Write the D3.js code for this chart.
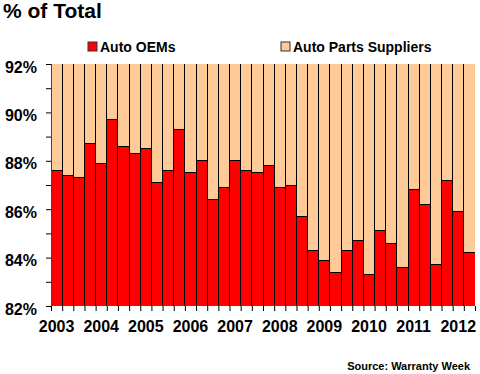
<html><head>
  <script src="https://d3js.org/d3.v7.min.js"></script>
  <style>
    body { margin: 0; background: #fff; }
    text { font-family: Arial, 'Liberation Sans', sans-serif; font-weight: bold; fill: #000; }
    .axis path { stroke: #444; }
    .axis line { stroke: #000; }
  </style>
</head>
<body>
<script>
  // quarterly shares, 2003 Q1 .. 2012 Q2
  const years = ["2003","2004","2005","2006","2007","2008","2009","2010","2011","2012"]
  const seriesNames = ["Auto OEMs", "Auto Parts Suppliers"]
  const oemShare = [87.6,87.4,87.3,88.7, 87.9,89.7,88.6,88.3, 88.5,87.1,87.6,89.3,
                    87.5,88.0,86.4,86.9, 88.0,87.6,87.5,87.8, 86.9,87.0,85.7,84.3,
                    83.9,83.4,84.3,84.7, 83.3,85.1,84.6,83.6, 86.8,86.2,83.7,87.2,
                    85.9,84.2]
  const supplierShare = [12.4,12.6,12.7,11.3, 12.1,10.3,11.4,11.7, 11.5,12.9,12.4,10.7,
                         12.5,12.0,13.6,13.1, 12.0,12.4,12.5,12.2, 13.1,13.0,14.3,15.7,
                         16.1,16.6,15.7,15.3, 16.7,14.9,15.4,16.4, 13.2,13.8,16.3,12.8,
                         14.1,15.8]
  const yTicks = [82,83,84,85,86,87,88,89,90,91,92]
  const colors = ["#ff0000", "#fdca98"]

  const width = 480, height = 374
  const margin = {top: 64, right: 5, bottom: 68, left: 51}

  const svg = d3.select("body").append("svg")
                .attr("width", width).attr("height", height)

  const rows = oemShare.map((v, i) => ({idx: i, "Auto OEMs": v, "Auto Parts Suppliers": supplierShare[i]}))
  const stacked = d3.stack().keys(seriesNames)(rows)

  const x = d3.scaleBand().domain(d3.range(oemShare.length))
              .range([margin.left, width - margin.right]).padding(0)
  const y = d3.scaleLinear().domain([82, 92]).range([height - margin.bottom, margin.top])

  svg.append("clipPath").attr("id", "plotclip")
     .append("rect")
     .attr("x", margin.left).attr("y", margin.top)
     .attr("width", width - margin.left - margin.right)
     .attr("height", height - margin.top - margin.bottom)

  const barArea = svg.append("g").attr("clip-path", "url(#plotclip)")
  barArea.selectAll("g.series").data(stacked)
    .join("g").attr("class", "series")
    .attr("fill", (d, i) => colors[i])
    .selectAll("rect").data(d => d)
    .join("rect")
    .attr("x", d => x(d.data.idx))
    .attr("y", d => y(d[1]))
    .attr("width", x.bandwidth())
    .attr("height", d => y(d[0]) - y(d[1]))
    .attr("stroke", "#000")
    .attr("stroke-width", 1)
    .attr("shape-rendering", "crispEdges")

  // y axis
  svg.append("g").attr("class", "axis")
     .attr("transform", `translate(${margin.left},0)`)
     .call(d3.axisLeft(y).tickValues(yTicks).tickSize(5).tickPadding(9)
             .tickFormat(d => d % 2 === 0 ? d + "%" : ""))
     .call(g => g.selectAll("text").style("font-size", "16px").attr("dy", "0.5em"))
     .call(g => g.select(".domain").attr("shape-rendering", "crispEdges"))

  // x ticks on bar boundaries
  const xEdge = d3.scaleLinear().domain([0, oemShare.length]).range(x.range())
  svg.append("g").attr("class", "axis")
     .attr("transform", `translate(0,${height - margin.bottom})`)
     .call(d3.axisBottom(xEdge).tickValues(d3.range(oemShare.length + 1)).tickSize(5).tickFormat(""))
     .call(g => g.select(".domain").remove())

  // year labels under the first quarter of each year
  svg.append("g").attr("class", "axis")
     .attr("transform", `translate(0,${height - margin.bottom})`)
     .call(d3.axisBottom(x).tickValues(years.map((yr, i) => i * 4)).tickSize(0).tickPadding(15)
             .tickFormat(d => years[d / 4]))
     .call(g => g.select(".domain").remove())
     .call(g => g.selectAll("text").style("font-size", "16px"))

  // title
  svg.append("text").attr("x", 3).attr("y", 18)
     .style("font-size", "21px").text("% of Total")

  // legend
  const legendX = [88, 281]
  const legend = svg.append("g").selectAll("g").data(seriesNames).join("g")
                    .attr("transform", (d, i) => `translate(${legendX[i]},42)`)
  legend.append("rect").attr("width", 9).attr("height", 9)
        .attr("fill", (d, i) => colors[i]).attr("stroke", "#333")
  legend.append("text").attr("x", 12).attr("y", 10)
        .style("font-size", "14px").text(d => d)

  svg.append("text").attr("x", 470).attr("y", 370).attr("text-anchor", "end")
     .style("font-size", "11px").text("Source: Warranty Week")
</script>
</body>
</html>
